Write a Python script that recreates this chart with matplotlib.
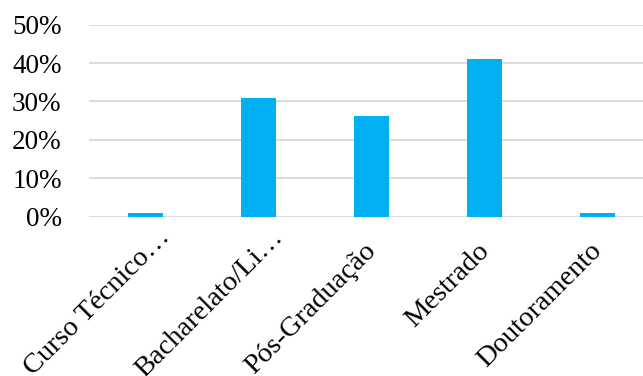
import matplotlib
matplotlib.use("Agg")
import matplotlib.pyplot as plt
import matplotlib.transforms as mtransforms
from matplotlib.ticker import PercentFormatter

categories = ["Curso Técnico…", "Bacharelato/Li…", "Pós-Graduação", "Mestrado", "Doutoramento"]
values = [0.8, 31, 26.2, 41, 0.8]
yticks = [0, 10, 20, 30, 40, 50]

plt.rcParams["font.family"] = ["Liberation Serif", "DejaVu Serif"]

fig = plt.figure(figsize=(6.43, 3.76), dpi=100)
ax = fig.add_axes([89.4 / 643, 159.5 / 376, 564.2 / 643, 191.8 / 376])

x = range(len(categories))
ax.bar(x, values, width=0.31, color="#00B0F0", zorder=3)

ax.set_ylim(0, 50)
ax.set_xlim(-0.5, len(categories) - 0.5)
ax.set_yticks(yticks)
ax.yaxis.set_major_formatter(PercentFormatter(decimals=0))
ax.grid(axis="y", color="#D9D9D9", linewidth=1.3, zorder=0)
ax.set_axisbelow(True)

for s in ax.spines.values():
    s.set_visible(False)

ax.tick_params(axis="y", length=0, labelsize=19.5, colors="black", pad=20)
ax.set_xticks(list(x))
ax.set_xticklabels(categories, rotation=45, ha="right", rotation_mode="anchor")
ax.tick_params(axis="x", length=0, labelsize=20.5, colors="black", pad=12)

# shortened labels (ending in an ellipsis) sit a little higher and further right
for lbl in ax.get_xticklabels():
    if lbl.get_text().endswith("…"):
        dx, dy = 12, 8
    else:
        dx, dy = -8, -5
    shift = mtransforms.ScaledTranslation(dx / 100, dy / 100, fig.dpi_scale_trans)
    lbl.set_transform(lbl.get_transform() + shift)

fig.savefig("out.png", dpi=100)
